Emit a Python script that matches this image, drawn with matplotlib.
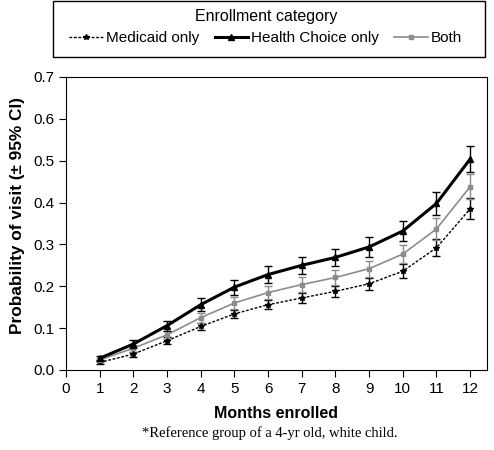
import matplotlib.pyplot as plt
from matplotlib.lines import Line2D
from matplotlib.patches import Rectangle

plt.rcParams['font.family'] = ['Liberation Sans', 'DejaVu Sans']

months = [1, 2, 3, 4, 5, 6, 7, 8, 9, 10, 11, 12]

medicaid = [0.018, 0.038, 0.070, 0.104, 0.134, 0.156, 0.172, 0.188, 0.206, 0.236, 0.292, 0.385]
medicaid_ci = [0.004, 0.006, 0.008, 0.009, 0.010, 0.011, 0.012, 0.013, 0.014, 0.017, 0.020, 0.025]

health_choice = [0.028, 0.062, 0.106, 0.156, 0.198, 0.228, 0.250, 0.269, 0.294, 0.332, 0.398, 0.504]
health_choice_ci = [0.005, 0.010, 0.012, 0.016, 0.018, 0.020, 0.021, 0.021, 0.023, 0.025, 0.028, 0.030]

both = [0.024, 0.052, 0.084, 0.125, 0.160, 0.185, 0.204, 0.221, 0.242, 0.277, 0.337, 0.438]
both_ci = [0.004, 0.008, 0.010, 0.012, 0.014, 0.016, 0.017, 0.018, 0.019, 0.022, 0.026, 0.030]

fig = plt.figure(figsize=(4.94, 4.5), dpi=100)
ax = fig.add_axes([0.1336, 0.1778, 0.8522, 0.6511])

dash = (0, (2, 1.2))
ax.errorbar(months, medicaid, yerr=medicaid_ci, color='black', linestyle=dash,
            linewidth=1, marker='*', markersize=4, capsize=3, elinewidth=1, zorder=3)
ax.errorbar(months, health_choice, yerr=health_choice_ci, color='black', linewidth=2.2,
            marker='^', markersize=4, capsize=3, elinewidth=1, zorder=4)
ax.errorbar(months, both, yerr=both_ci, color='#8c8c8c', linewidth=1.2,
            marker='s', markersize=3, capsize=3, elinewidth=1, zorder=3)

ax.set_xlim(0, 12.5)
ax.set_ylim(0, 0.7)
ax.set_xticks(range(0, 13))
ax.set_yticks([0, 0.1, 0.2, 0.3, 0.4, 0.5, 0.6, 0.7])
ax.set_yticklabels(['0.0', '0.1', '0.2', '0.3', '0.4', '0.5', '0.6', '0.7'])
ax.tick_params(labelsize=11, direction='out', length=5, width=0.8)
for s in ax.spines.values():
    s.set_linewidth(0.8)

ax.set_xlabel('Months enrolled', fontsize=11.5, fontweight='bold', labelpad=7)
ax.set_ylabel('Probability of visit (± 95% CI)', fontsize=12.4, fontweight='bold', labelpad=6)
ax.yaxis.label.set_y(0.526)

# legend box above the plot
x0, y0 = 53 / 494, 1 - 57 / 450
fig.patches.append(Rectangle((x0, y0), 485 / 494 - x0, 1 - 1 / 450 - y0,
                             transform=fig.transFigure, fill=False,
                             edgecolor='black', linewidth=1))
handles = [
    Line2D([], [], color='black', linestyle=dash, linewidth=1, marker='*', markersize=4),
    Line2D([], [], color='black', linewidth=2.2, marker='^', markersize=4),
    Line2D([], [], color='#8c8c8c', linewidth=1.2, marker='s', markersize=3),
]
fig.legend(handles, ['Medicaid only', 'Health Choice only', 'Both'], loc='center',
           bbox_to_anchor=(0.538, 1 - 27 / 450), ncol=3, title='Enrollment category',
           fontsize=11, title_fontsize=11.5, frameon=False,
           handlelength=2.2, handletextpad=0.2, columnspacing=1.0)

fig.text(0.547, 1 - 433 / 450, '*Reference group of a 4-yr old, white child.', ha='center',
         va='center', fontsize=10.5, family=['Liberation Serif', 'DejaVu Serif'])

fig.savefig('out.png', dpi=100)
